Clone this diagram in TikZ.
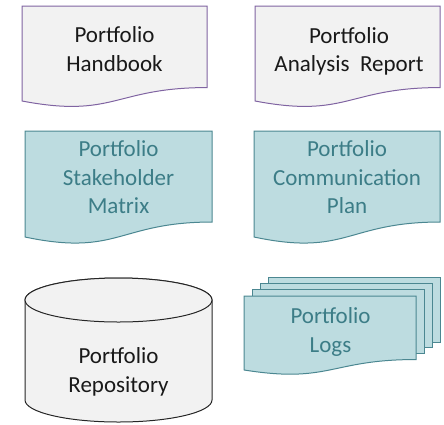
\documentclass[tikz,border=0pt]{standalone}
\usepackage{fontspec}
\setmainfont{Carlito}
\definecolor{grayfill}{HTML}{F2F2F2}
\definecolor{purpleline}{HTML}{8064A2}
\definecolor{tealfill}{HTML}{BDDCE0}
\definecolor{tealline}{HTML}{4B8791}
\definecolor{tealtext}{HTML}{3C7D87}
\tikzset{
  graydoc/.style={fill=grayfill, draw=purpleline, line width=1pt},
  tealdoc/.style={fill=tealfill, draw=tealline, line width=1pt},
  cylbox/.style={fill=grayfill, draw=black!85, line width=1pt},
  lbl/.style={align=center, inner sep=0pt, font=\fontsize{23}{28.5}\selectfont},
  graylbl/.style={lbl, text=black!90},
  teallbl/.style={lbl, text=tealtext},
}
% document shape: #1 style, #2 left, #3 top, #4 width, #5 height
\newcommand\docshape[5]{%
  \path[#1] (#2,#3) -- ({#2+#4},#3) -- ({#2+#4},{#3+0.802*#5})
    .. controls ({#2+#4/2},{#3+0.802*#5}) and ({#2+#4/2},{#3+1.1074*#5}) .. (#2,{#3+0.934*#5}) -- cycle;}
\begin{document}
\begin{tikzpicture}[x=1pt,y=-1pt]
\useasboundingbox (0,0) rectangle (444,424);
% row 1
\docshape{graydoc}{22}{6}{185}{101.7}
\node[graylbl] (handbook) at (114.5,49) {Portfolio\\Handbook};
\docshape{graydoc}{255}{6}{185}{101.7}
\node[graylbl] (analysis) at (349,51.5) {Portfolio\\Analysis\ \ Report};
% row 2
\docshape{tealdoc}{25}{131}{187}{113.5}
\node[teallbl] (stake) at (118.5,177.5) {Portfolio\\Stakeholder\\Matrix};
\docshape{tealdoc}{254}{131}{186}{113.5}
\node[teallbl] (comm) at (347,177.5) {Portfolio\\Communication\\Plan};
% cylinder
\path[cylbox] (25,300) -- (25,400) arc[start angle=180, end angle=360, x radius=93.5, y radius=-22] -- (212,300)
  arc[start angle=0, end angle=180, x radius=93.5, y radius=-22] -- cycle;
\path[cylbox] (118.5,300) ellipse[x radius=93.5, y radius=22];
\node[graylbl] (repo) at (118.5,372) {Portfolio\\Repository};
% multi-document
\path[tealdoc] (268,277) rectangle (440,342);
\path[tealdoc] (260,283) rectangle (432,347);
\path[tealdoc] (252,289) rectangle (424,353);
\docshape{tealdoc}{244}{296}{172}{79.2}
\node[teallbl] (logs) at (330.5,332) {Portfolio\\Logs};
\end{tikzpicture}
\end{document}
